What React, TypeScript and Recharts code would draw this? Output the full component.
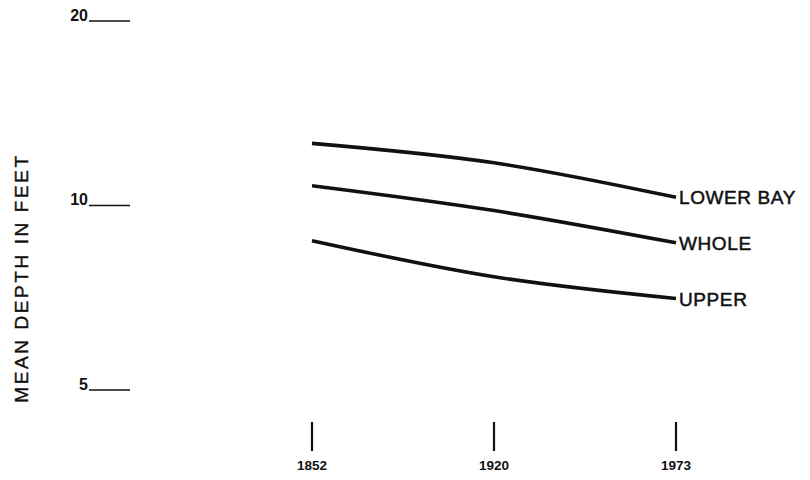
import { LineChart, Line, XAxis, YAxis, LabelList, Label } from "recharts";

// mean depth in feet
const years = ["1852", "1920", "1973"];
const lowerBay = [12.63, 11.74, 10.31];
const whole = [10.77, 9.81, 8.69];
const upper = [8.76, 7.65, 7.05];
const seriesKeys = ["lowerBay", "whole", "upper"];
const seriesNames = ["LOWER BAY", "WHOLE", "UPPER"];
const depthTicks = [5, 10, 20];

const data = years.map((year, i) => ({
  year,
  lowerBay: lowerBay[i],
  whole: whole[i],
  upper: upper[i],
}));

const FONT = "'Liberation Sans', Arial, Helvetica, sans-serif";
const INK = "#111";

const YTick = (props: any) => {
  const { x, y, payload } = props;
  return (
    <g>
      <text
        x={x - 224}
        y={y}
        textAnchor="end"
        fontFamily={FONT}
        fontWeight="bold"
        fontSize={16}
        fill={INK}
      >
        {payload.value}
      </text>
      <line x1={x - 223} x2={x - 182} y1={y} y2={y} stroke={INK} strokeWidth={1.6} />
    </g>
  );
};

const XTick = (props: any) => {
  const { x, y, payload } = props;
  return (
    <g>
      <line x1={x} x2={x} y1={y + 4} y2={y + 33} stroke={INK} strokeWidth={2.2} />
      <text
        x={x}
        y={y + 52}
        textAnchor="middle"
        fontFamily={FONT}
        fontWeight="bold"
        fontSize={13.5}
        fill={INK}
      >
        {payload.value}
      </text>
    </g>
  );
};

const endLabel = (name: string) => (props: any) => {
  const { x, y, index } = props;
  if (index !== years.length - 1) return null;
  return (
    <text
      x={x + 3}
      y={y + 7}
      fontFamily={FONT}
      fontSize={19}
      letterSpacing={0.6}
      fill={INK}
      stroke={INK}
      strokeWidth={0.5}
    >
      {name}
    </text>
  );
};

const AxisTitle = () => (
  <text
    x={28}
    y={278}
    transform="rotate(-90 28 278)"
    textAnchor="middle"
    fontFamily={FONT}
    fontSize={19}
    letterSpacing={2.6}
    fill={INK}
    stroke={INK}
    strokeWidth={0.4}
  >
    MEAN DEPTH IN FEET
  </text>
);

export default function App() {
  return (
    <div style={{ position: "absolute", left: 0, top: 0, background: "#fff" }}>
      <LineChart
        width={810}
        height={480}
        data={data}
        margin={{ top: 21, right: 134, left: 0, bottom: 0 }}
      >
        <XAxis
          dataKey="year"
          height={62}
          axisLine={false}
          tickLine={false}
          tickSize={0}
          tickMargin={0}
          interval={0}
          tick={<XTick />}
        />
        <YAxis
          type="number"
          scale="log"
          domain={[4.5, 20]}
          ticks={depthTicks}
          allowDataOverflow
          width={312}
          axisLine={false}
          tickLine={false}
          tickSize={0}
          tickMargin={0}
          tick={<YTick />}
        >
          <Label content={<AxisTitle />} />
        </YAxis>
        {seriesKeys.map((key, i) => (
          <Line
            key={key}
            dataKey={key}
            type="natural"
            stroke={INK}
            strokeWidth={3.6}
            dot={false}
            isAnimationActive={false}
          >
            <LabelList dataKey={key} content={endLabel(seriesNames[i])} />
          </Line>
        ))}
      </LineChart>
    </div>
  );
}
